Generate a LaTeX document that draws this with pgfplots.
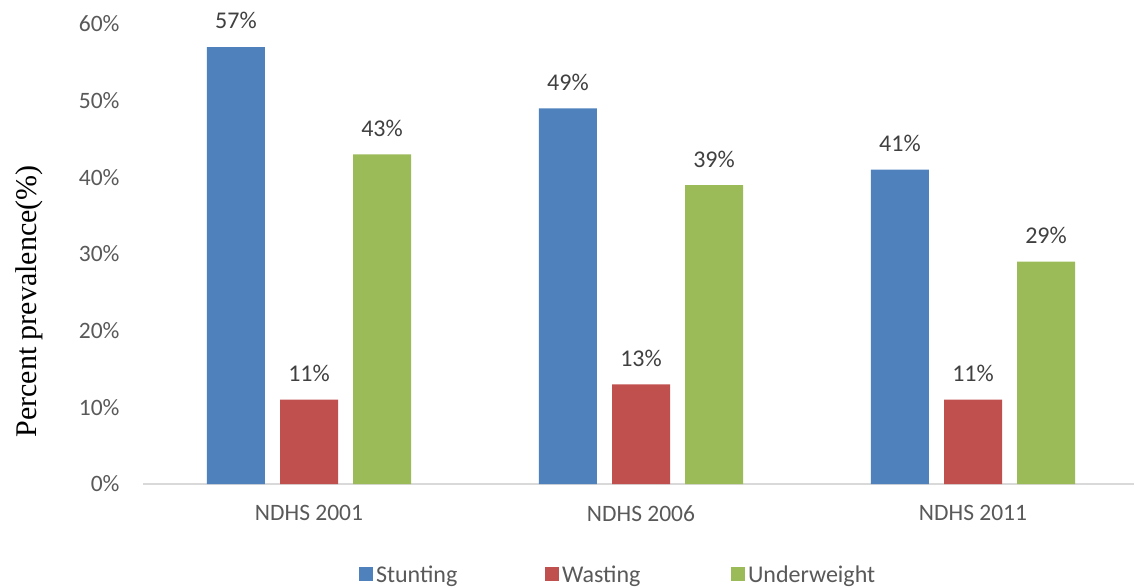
\documentclass[border=0pt]{standalone}
\usepackage{pgfplots}
\pgfplotsset{compat=1.18}
\usepackage{fontspec}
\setmainfont{Carlito}
\newfontfamily\seriffont{Liberation Serif}
\definecolor{cblue}{HTML}{4F81BD}
\definecolor{cred}{HTML}{C0504D}
\definecolor{cgreen}{HTML}{9BBB59}
\definecolor{tickgray}{HTML}{595959}
\definecolor{labgray}{HTML}{404040}
\definecolor{axgray}{HTML}{D9D9D9}
\begin{document}
\begin{tikzpicture}
\begin{axis}[
  at={(143pt,103pt)}, anchor=south west,
  scale only axis, width=996pt, height=460pt,
  xmin=-0.5, xmax=2.5, ymin=0, ymax=60,
  ybar=0pt, bar width=58pt,
  xtick={0,1,2}, xticklabels={NDHS 2001,NDHS 2006,NDHS 2011},
  ytick={0,10,...,60},
  yticklabel={\pgfmathprintnumber{\tick}\%},
  /pgf/number format/assume math mode=true,
  tick label style={font=\fontsize{23.5}{27}\selectfont, text=tickgray},
  xticklabel style={yshift=-18pt},
  yticklabel style={xshift=-20pt},
  major tick length=0pt,
  axis x line*=bottom, axis y line*=left,
  x axis line style={draw=axgray, line width=1.2pt, -},
  y axis line style={draw=none},
  ylabel={\seriffont Percent prevalence(\%)},
  ylabel style={font=\fontsize{30}{34}\selectfont, at={(rel axis cs:0,0.397)}, anchor=south, yshift=97pt},
  nodes near coords={\pgfmathprintnumber{\pgfplotspointmeta}\%},
  every node near coord/.append style={font=\fontsize{24}{28}\selectfont, text=labgray, anchor=base, yshift=18pt},
  legend style={at={(0.497,-0.198)}, anchor=center, draw=none, legend columns=3,
    font=\fontsize{24}{28}\selectfont, text=tickgray,
    nodes={text width=166pt, align=left, inner sep=3pt}},
  legend cell align=left,
  legend image code/.code={\fill[#1,draw=none] (0pt,-6pt) rectangle (14pt,8pt);},
]
\addplot[fill=cblue, draw=none, bar shift=0pt] coordinates {(-0.22,57) (0.78,49) (1.78,41)};
\addplot[fill=cred, draw=none, bar shift=0pt] coordinates {(0,11) (1,13) (2,11)};
\addplot[fill=cgreen, draw=none, bar shift=0pt] coordinates {(0.22,43) (1.22,39) (2.22,29)};
\legend{Stunting,Wasting,Underweight}
\end{axis}
\pgfresetboundingbox
\path (0pt,0pt) rectangle (1134pt,587pt);
\end{tikzpicture}
\end{document}
